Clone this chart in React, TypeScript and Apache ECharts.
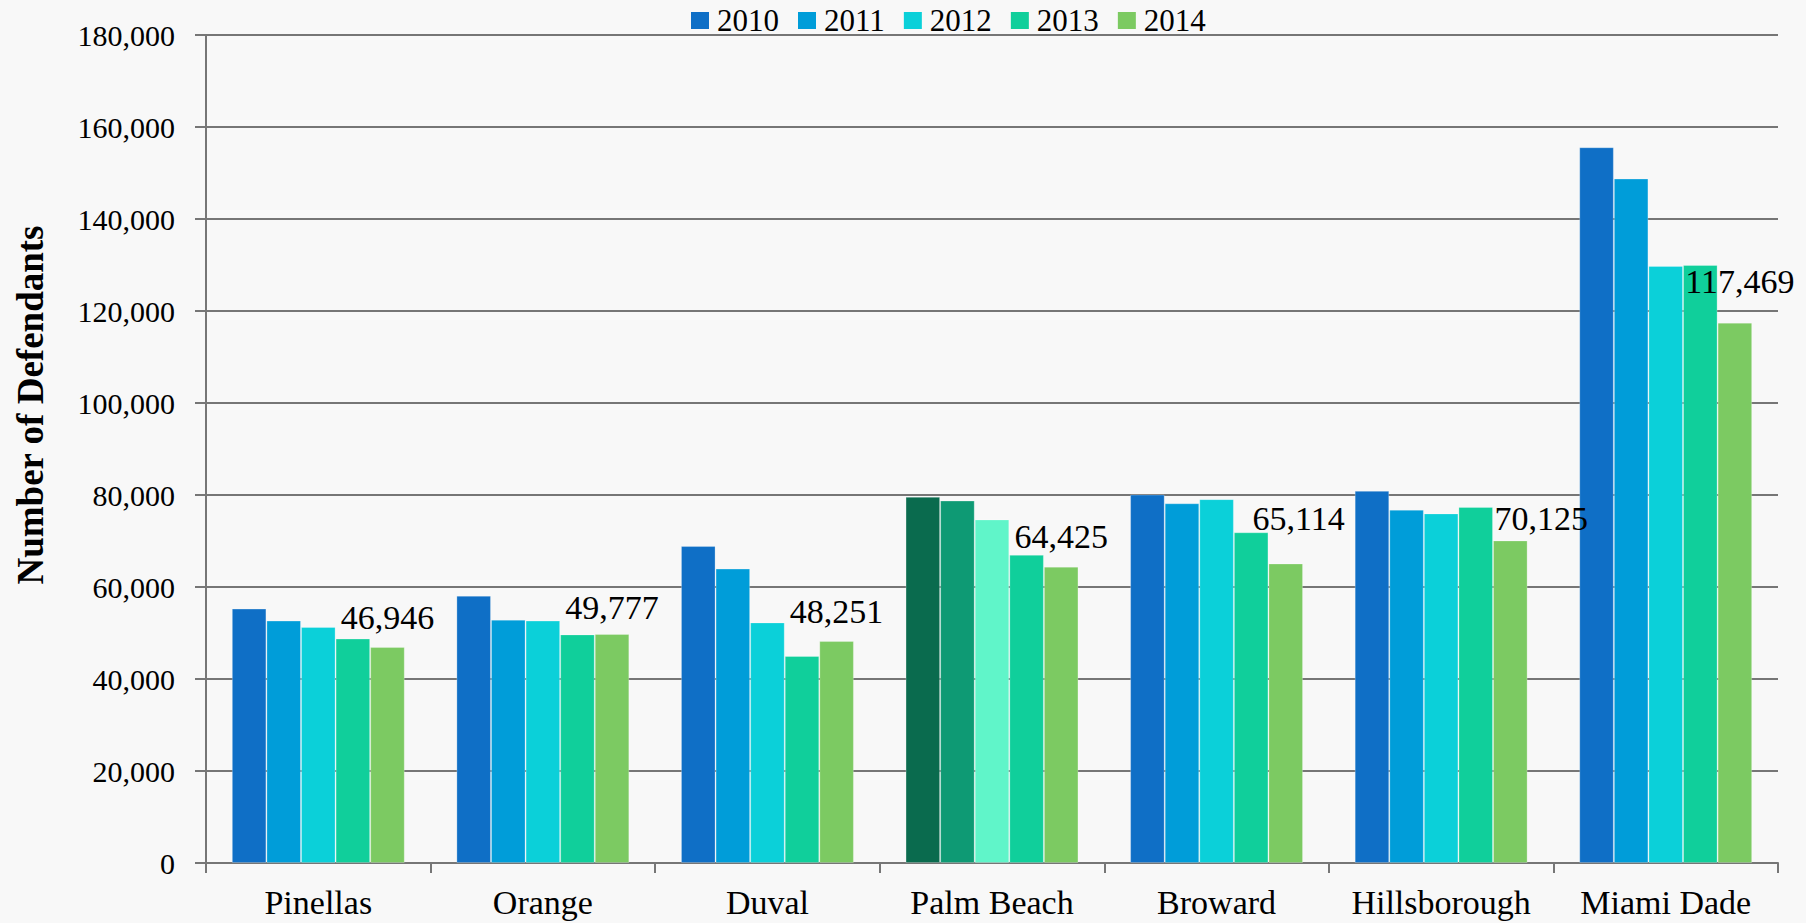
import React, { useEffect, useRef } from "react";
import * as echarts from "echarts";

// ---- Data ----
const categories = ["Pinellas", "Orange", "Duval", "Palm Beach", "Broward", "Hillsborough", "Miami Dade"];
const years = ["2010", "2011", "2012", "2013", "2014"];
const values2010 = [55300, 58100, 68900, 79600, 80100, 80900, 155600];
const values2011 = [52700, 52900, 64000, 78800, 78200, 76800, 148800];
const values2012 = [51300, 52700, 52300, 74700, 79100, 76000, 129800];
const values2013 = [48800, 49700, 45000, 67000, 71900, 77400, 130000];
const values2014 = [46946, 49777, 48251, 64425, 65114, 70125, 117469];
const yMin = 0;
const yMax = 180000;
const yInterval = 20000;

// ---- Styles ----
const FONT = "'Liberation Serif', 'Times New Roman', serif";
const seriesColors = ["#0F6FC6", "#009DD9", "#0BD0D9", "#10CF9B", "#7CCA62"];
const highlightIndex = 3; // Palm Beach
const highlightColors = ["#0A6B4E", "#0E9A74", "#60F5C9", null, null];
const labelNudge: Record<number, [number, number]> = {
  1: [0, 3],
  4: [13, -15],
  5: [31, 8],
  6: [5, -11],
};
const AXIS_COLOR = "#767676";

const fmt = (v: number) => v.toLocaleString("en-US");

function buildOption() {
  const allValues = [values2010, values2011, values2012, values2013, values2014];
  const series = years.map((year, i) => {
    const data = allValues[i].map((v, j) => {
      const item: any = { value: v };
      if (j === highlightIndex && highlightColors[i]) {
        item.itemStyle = { color: highlightColors[i] };
      }
      if (i === 4 && labelNudge[j]) {
        item.label = { offset: labelNudge[j] };
      }
      return item;
    });
    return {
      name: year,
      type: "bar",
      barGap: "0%",
      barCategoryGap: "23%",
      itemStyle: {
        color: seriesColors[i],
        borderColor: "rgba(255,255,255,0.25)",
        borderWidth: 1,
      },
      label:
        i === 4
          ? {
              show: true,
              position: "top",
              distance: 13,
              fontFamily: FONT,
              fontSize: 34,
              color: "#000",
              formatter: (p: any) => fmt(p.value),
            }
          : { show: false },
      data,
    };
  });

  return {
    animation: false,
    backgroundColor: "#f8f8f8",
    textStyle: { fontFamily: FONT },
    legend: {
      data: years,
      left: 691,
      top: 5,
      padding: 0,
      icon: "rect",
      itemWidth: 18,
      itemHeight: 17,
      itemGap: 19,
      itemStyle: { borderWidth: 0 },
      textStyle: { fontFamily: FONT, fontSize: 31, color: "#000", padding: [0, 0, 0, 3] },
    },
    grid: { left: 206, right: 28, top: 35, bottom: 60, containLabel: false },
    xAxis: {
      type: "category",
      data: categories,
      axisLine: { show: true, lineStyle: { color: AXIS_COLOR, width: 2 } },
      axisTick: { show: true, alignWithLabel: false, length: 10, lineStyle: { color: AXIS_COLOR, width: 2 } },
      axisLabel: { fontFamily: FONT, fontSize: 34, color: "#000", margin: 22, interval: 0 },
      splitLine: { show: false },
    },
    yAxis: {
      type: "value",
      min: yMin,
      max: yMax,
      interval: yInterval,
      axisLine: { show: true, lineStyle: { color: AXIS_COLOR, width: 2 } },
      axisTick: { show: true, length: 11, lineStyle: { color: AXIS_COLOR, width: 2 } },
      axisLabel: {
        fontFamily: FONT,
        fontSize: 30,
        color: "#000",
        margin: 31,
        formatter: (v: number) => fmt(v),
      },
      splitLine: { show: true, lineStyle: { color: AXIS_COLOR, width: 2 } },
    },
    graphic: [
      {
        type: "text",
        x: 30,
        y: 405,
        rotation: Math.PI / 2,
        style: {
          text: "Number of Defendants",
          font: `bold 37px ${FONT}`,
          fill: "#000",
          textAlign: "center",
          textVerticalAlign: "middle",
        },
      },
    ],
    series,
  };
}

export default function App() {
  const ref = useRef<HTMLDivElement>(null);
  useEffect(() => {
    if (!ref.current) return;
    const chart = echarts.init(ref.current, null, { renderer: "svg" });
    chart.setOption(buildOption() as any);
    return () => chart.dispose();
  }, []);
  return (
    <div
      ref={ref}
      style={{ position: "absolute", left: 0, top: 0, width: 1806, height: 923 }}
    />
  );
}
